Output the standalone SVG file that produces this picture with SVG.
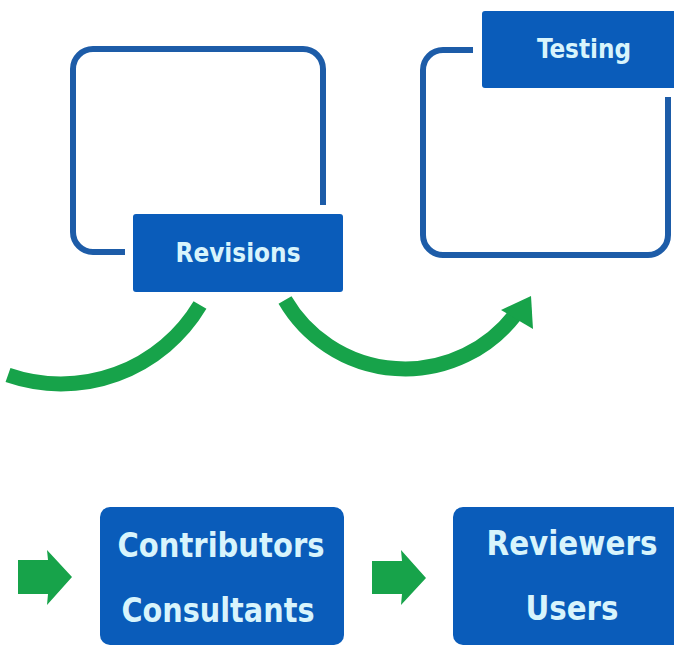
<svg xmlns="http://www.w3.org/2000/svg" width="674" height="647" viewBox="0 0 674 647">
<style>
.frame{fill:none;stroke:#1d5ca8;stroke-width:6;stroke-linecap:butt}
.box{fill:#0a5cba}
.lbl{font-family:"DejaVu Sans Condensed","DejaVu Sans","Liberation Sans",sans-serif;font-stretch:condensed;font-weight:bold;fill:#d8f4fc;text-anchor:middle}
.s{font-size:27px}
.l{font-size:34px}
.curve{fill:none;stroke:#17a34a;stroke-width:15}
.head{fill:#17a34a}
</style>
<rect width="674" height="647" fill="#ffffff"/>
<g id="frame-left">
<path class="frame" d="M125 252 H93 A20 20 0 0 1 73 232 V69 A20 20 0 0 1 93 49 H303 A20 20 0 0 1 323 69 V205"/>
</g>
<g id="frame-right">
<path class="frame" d="M473 50 H443 A20 20 0 0 0 423 70 V235 A20 20 0 0 0 443 255 H648 A20 20 0 0 0 668 235 V97"/>
</g>
<g id="revisions">
<rect class="box" x="133" y="214" width="210" height="78" rx="3"/>
<text class="lbl s" x="238" y="262" textLength="125" lengthAdjust="spacingAndGlyphs">Revisions</text>
</g>
<g id="testing">
<rect class="box" x="482" y="11" width="200" height="77" rx="3"/>
<text class="lbl s" x="584" y="58" textLength="94" lengthAdjust="spacingAndGlyphs">Testing</text>
</g>
<g id="contributors">
<rect class="box" x="100" y="507" width="244" height="138" rx="10"/>
<text class="lbl l" x="221" y="557" textLength="207" lengthAdjust="spacingAndGlyphs">Contributors</text>
<text class="lbl l" x="218" y="622" textLength="193" lengthAdjust="spacingAndGlyphs">Consultants</text>
</g>
<g id="reviewers">
<rect class="box" x="453" y="507" width="240" height="138" rx="10"/>
<text class="lbl l" x="572" y="555" textLength="171" lengthAdjust="spacingAndGlyphs">Reviewers</text>
<text class="lbl l" x="572" y="620" textLength="93" lengthAdjust="spacingAndGlyphs">Users</text>
</g>
<g id="connectors">
<path class="curve" d="M8 375 A162 162 0 0 0 200 305"/>
<path class="curve" d="M285 300 A139 139 0 0 0 514.5 315.6"/>
<polygon class="head" points="531,296 501,310 533,329"/>
<polygon class="head" points="18,560 48,560 47,550 72,577 47,605 48,594 18,594"/>
<polygon class="head" points="372,561 402,561 401,550 426,578 401,605 402,594 372,594"/>
</g>
</svg>
